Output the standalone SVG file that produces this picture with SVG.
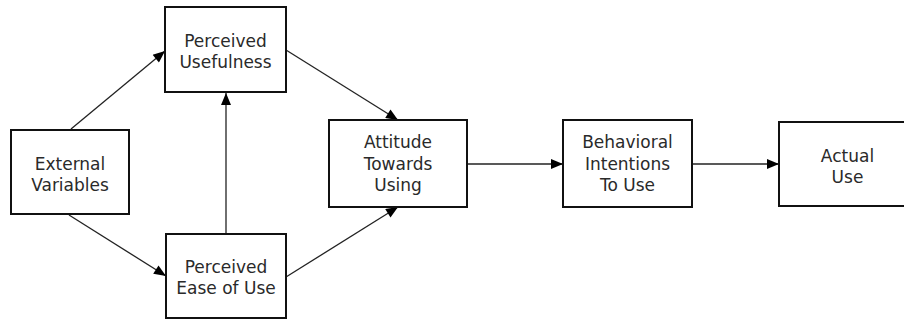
<svg xmlns="http://www.w3.org/2000/svg" width="904" height="320" viewBox="0 0 904 320">
  <style>
    .box { fill: #ffffff; stroke: #111111; stroke-width: 2; }
    .label { font-family: "DejaVu Sans", Verdana, sans-serif; font-size: 17px; fill: #2a2a2a; text-anchor: middle; }
    .edge { fill: none; stroke: #222222; stroke-width: 1.3; }
  </style>
  <defs>
    <marker id="arrow" viewBox="0 0 12 10" refX="12" refY="5" markerWidth="13" markerHeight="10" markerUnits="userSpaceOnUse" orient="auto">
      <path d="M0,0 L12,5 L0,10 z" fill="#000000"/>
    </marker>
  </defs>
  <rect width="904" height="320" fill="#ffffff"/>

  <!-- connectors -->
  <g id="connectors">
    <line class="edge" x1="71" y1="129" x2="165" y2="51" marker-end="url(#arrow)"/>
    <line class="edge" x1="69" y1="215" x2="166" y2="276" marker-end="url(#arrow)"/>
    <line class="edge" x1="226" y1="234" x2="226" y2="93" marker-end="url(#arrow)"/>
    <line class="edge" x1="286" y1="50" x2="398" y2="120" marker-end="url(#arrow)"/>
    <line class="edge" x1="286" y1="277" x2="398" y2="207" marker-end="url(#arrow)"/>
    <line class="edge" x1="467" y1="164" x2="563" y2="164" marker-end="url(#arrow)"/>
    <line class="edge" x1="692" y1="164" x2="779" y2="164" marker-end="url(#arrow)"/>
  </g>

  <g id="external-variables">
    <rect class="box" x="11" y="130" width="118" height="84"/>
    <text class="label" x="70" y="170">External</text>
    <text class="label" x="70" y="191">Variables</text>
  </g>

  <g id="perceived-usefulness">
    <rect class="box" x="165" y="7" width="121" height="85"/>
    <text class="label" x="225.5" y="47">Perceived</text>
    <text class="label" x="225.5" y="68">Usefulness</text>
  </g>

  <g id="perceived-ease-of-use">
    <rect class="box" x="166" y="234" width="120" height="84"/>
    <text class="label" x="226" y="273">Perceived</text>
    <text class="label" x="226" y="294">Ease of Use</text>
  </g>

  <g id="attitude-towards-using">
    <rect class="box" x="329" y="120" width="138" height="87"/>
    <text class="label" x="398" y="148">Attitude</text>
    <text class="label" x="398" y="170">Towards</text>
    <text class="label" x="398" y="191">Using</text>
  </g>

  <g id="behavioral-intentions">
    <rect class="box" x="563" y="120" width="129" height="87"/>
    <text class="label" x="627.5" y="148">Behavioral</text>
    <text class="label" x="627.5" y="170">Intentions</text>
    <text class="label" x="627.5" y="191">To Use</text>
  </g>

  <g id="actual-use">
    <rect class="box" x="779" y="122" width="137" height="84"/>
    <text class="label" x="847.5" y="162">Actual</text>
    <text class="label" x="847.5" y="183">Use</text>
  </g>
</svg>
